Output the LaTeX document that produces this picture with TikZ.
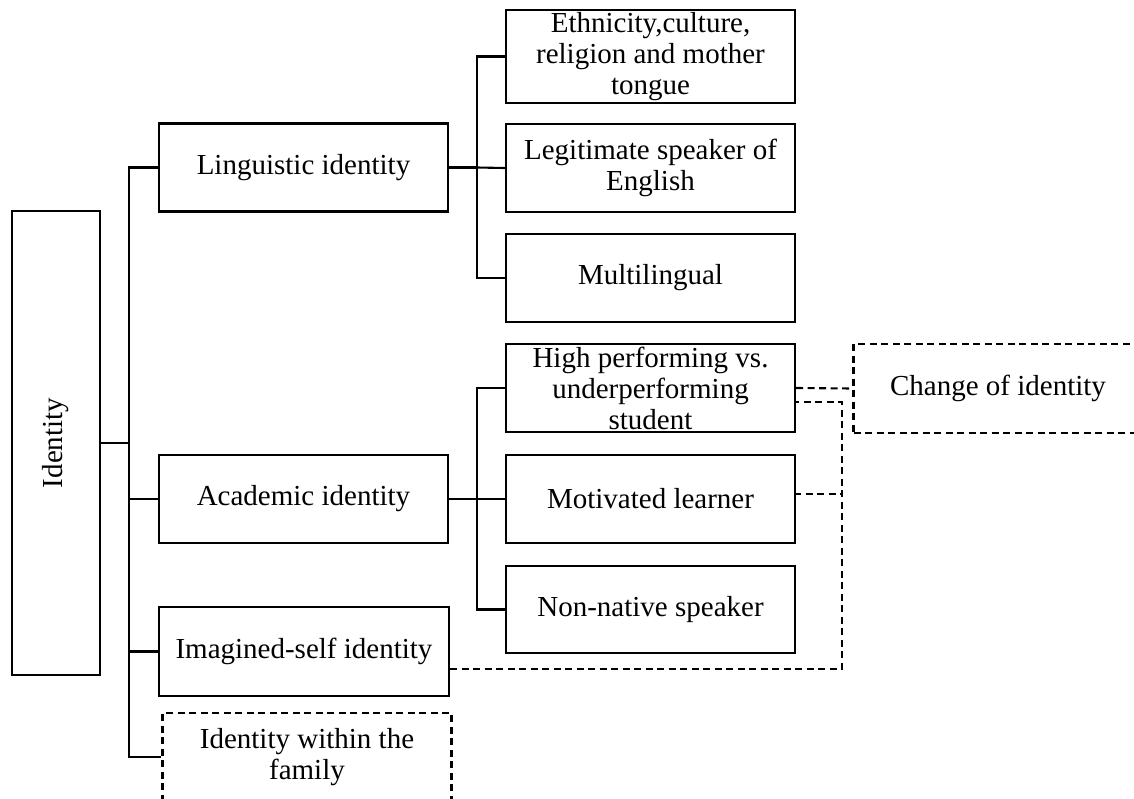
\documentclass[tikz,border=0pt]{standalone}
\usepackage{fontspec}
\setmainfont{Liberation Serif}
\begin{document}
\begin{tikzpicture}[x=1pt,y=-1pt,
  every node/.style={font=\fontsize{29}{31}\selectfont},
  box/.style={draw,line width=2.1pt,minimum width=289pt,minimum height=88pt,
    align=center,inner sep=2pt},
  dbox/.style={box,dash pattern=on 7pt off 4.5pt},
  link/.style={line width=2.1pt},
  dlink/.style={line width=2.1pt,dash pattern=on 7pt off 4.5pt}]
\clip (0,0) rectangle (1134,798);

% root
\node[draw,line width=2.1pt,minimum width=88pt,minimum height=464pt] (identity) at (56,443) {};
\node[rotate=90] (identitylabel) at (identity.center) {Identity};

% second level
\node[box] (ling) at (303.5,167.5) {Linguistic identity};
\node[box] (acad) at (303.5,499) {Academic identity};
\node[box,minimum width=290pt,minimum height=89pt] (imag) at (304,651.5) {Imagined-self identity};
\node[dbox] (fam) at (307,757) {Identity within the\\family};

% third level: linguistic
\node[box,minimum height=87pt] (eth) at (650.5,56.5) {Ethnicity,culture,\\religion and mother\\tongue};
\node[box] (legit) at (650.5,168) {Legitimate speaker of\\English};
\node[box] (multi) at (650.5,278) {Multilingual};

% third level: academic
\node[box] (high) at (650.5,388) {High performing vs.\\underperforming\\student};
\node[box] (motiv) at (650.5,499) {Motivated learner};
\node[box,minimum height=87pt] (nonnat) at (650.5,609.5) {Non-native speaker};

% outcome
\node[dbox,minimum height=89pt] (change) at (998,388.5) {Change of identity};

% trunk from the root
\coordinate (trunk) at (129,443);
\draw[link] (identity.east) -- (trunk);
\draw[link] (trunk) |- (ling.west);
\draw[link] (trunk) |- (acad.west);
\draw[link] (trunk) |- (imag.west);
\draw[link] (trunk) |- (fam.west);

% linguistic branch
\coordinate (lj) at (477,167.5);
\draw[link] (ling.east) -- (lj);
\draw[link] (lj) |- (eth.west);
\draw[link] (lj) -- (legit.west);
\draw[link] (lj) |- (multi.west);

% academic branch
\coordinate (aj) at (477,499);
\draw[link] (acad.east) -- (aj);
\draw[link] (aj) |- (high.west);
\draw[link] (aj) -- (motiv.west);
\draw[link] (aj) |- (nonnat.west);

% dashed links to the change of identity
\coordinate (dtop) at (842,402);
\draw[dlink] (high.east) -- (change.west);
\draw[dlink] ([yshift=-17.5pt]imag.east) -| (dtop) -- (high.east |- dtop);
\draw[dlink] ([yshift=5pt,xshift=-2pt]motiv.east) -- ([yshift=5pt]motiv.east -| dtop);
\end{tikzpicture}
\end{document}
